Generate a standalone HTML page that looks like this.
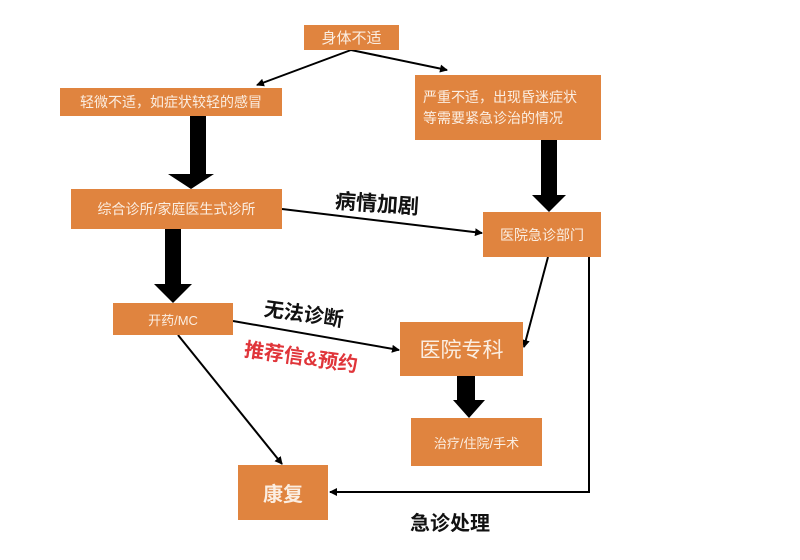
<!DOCTYPE html>
<html><head><meta charset="utf-8"><style>
body{margin:0;background:#fff;}
.w{position:relative;width:800px;height:560px;overflow:hidden;font-family:"Liberation Sans","Noto Sans CJK SC",sans-serif;}
.b{position:absolute;background:#e0843f;color:#fbeee2;display:flex;align-items:center;justify-content:center;text-align:center;}
.t{position:absolute;white-space:nowrap;font-weight:bold;color:#111;}
svg{position:absolute;left:0;top:0;}
</style></head><body><div class="w">
<svg width="800" height="560">
<defs><marker id="a" markerWidth="8" markerHeight="8" refX="7" refY="4" orient="auto" markerUnits="userSpaceOnUse"><path d="M0,0L8,4L0,8z" fill="#000"/></marker></defs>
<g stroke="#000" stroke-width="2" fill="none">
<line x1="351" y1="50" x2="257" y2="85" marker-end="url(#a)"/>
<line x1="351" y1="50" x2="447" y2="70" marker-end="url(#a)"/>
<line x1="282" y1="209" x2="482" y2="233" marker-end="url(#a)"/>
<line x1="548" y1="257" x2="524" y2="347" marker-end="url(#a)"/>
<polyline points="589,257 589,492 330,492" marker-end="url(#a)"/>
<line x1="233" y1="321" x2="399" y2="350" marker-end="url(#a)"/>
<line x1="178" y1="335" x2="282" y2="464" marker-end="url(#a)"/>
</g>
<g fill="#000">
<path d="M190,116h16v58h8l-23,15l-23,-15h22z"/>
<path d="M165,229h16v55h11l-19,19l-19,-19h11z"/>
<path d="M541,140h16v55h9l-17,17l-17,-17h9z"/>
<path d="M457,376h18v24h10l-16,18l-16,-18h4z"/>
</g>
</svg>
<div class="b" style="left:304px;top:25px;width:95px;height:25px;font-size:15px">身体不适</div>
<div class="b" style="left:60px;top:88px;width:222px;height:28px;font-size:14px">轻微不适，如症状较轻的感冒</div>
<div class="b" style="left:415px;top:75px;width:186px;height:65px;font-size:14px;line-height:21px;justify-content:flex-start;padding-left:8px;box-sizing:border-box;text-align:left">严重不适，出现昏迷症状<br>等需要紧急诊治的情况</div>
<div class="b" style="left:71px;top:189px;width:211px;height:40px;font-size:14px">综合诊所/家庭医生式诊所</div>
<div class="b" style="left:483px;top:212px;width:118px;height:45px;font-size:14px">医院急诊部门</div>
<div class="b" style="left:113px;top:303px;width:120px;height:32px;font-size:13px">开药/MC</div>
<div class="b" style="left:400px;top:322px;width:123px;height:54px;font-size:21px">医院专科</div>
<div class="b" style="left:411px;top:418px;width:131px;height:48px;font-size:13px">治疗/住院/手术</div>
<div class="b" style="left:238px;top:465px;width:90px;height:55px;font-size:20px;font-weight:bold">康复</div>
<div class="t" style="left:335px;top:188px;font-size:21px;transform:rotate(4deg)">病情加剧</div>
<div class="t" style="left:264px;top:298px;font-size:20px;transform:rotate(8deg)">无法诊断</div>
<div class="t" style="left:244px;top:341px;font-size:20px;color:#e0353a;transform:rotate(8deg)">推荐信&amp;预约</div>
<div class="t" style="left:410px;top:507px;font-size:20px">急诊处理</div>
</div></body></html>
